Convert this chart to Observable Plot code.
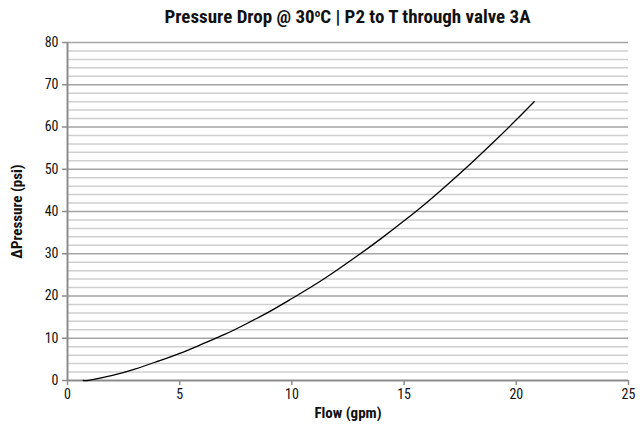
<!DOCTYPE html>
<html>
<head>
<meta charset="utf-8">
<script src="https://cdn.jsdelivr.net/npm/d3@7"></script>
<script src="https://cdn.jsdelivr.net/npm/@observablehq/plot@0.6"></script>
<style>
  body { margin: 0; background: #fff; }
  #wrap { width: 644px; height: 425px; position: relative; font-family: "Liberation Sans Narrow", "Roboto Condensed", "Arial Narrow", "Liberation Sans", sans-serif; }
  #title { position: absolute; left: 67px; width: 561px; top: 6px; text-align: center; font-weight: bold; font-size: 19px; line-height: 22px; color: #111; font-stretch: condensed; }
  #chart { position: absolute; top: 34px; left: 0; }
</style>
</head>
<body>
<div id="wrap">
  <div id="title">Pressure Drop @ 30<sup style="font-size:11px;vertical-align:6px;line-height:0;">o</sup>C | P2 to T through valve 3A</div>
  <div id="chart"></div>
</div>
<script>
const flow = [0.7, 1, 2, 3, 4, 5, 6, 7, 8, 9, 10, 11, 12, 13, 14, 15, 16, 17, 18, 19, 20, 20.8];
const pressure = [0, 0.1, 1.2, 2.7, 4.5, 6.4, 8.6, 10.9, 13.5, 16.3, 19.4, 22.6, 26.1, 29.8, 33.7, 37.8, 42.1, 46.7, 51.5, 56.5, 61.7, 66.0];
const xTicks = [0, 5, 10, 15, 20, 25];
const yTicks = [0, 10, 20, 30, 40, 50, 60, 70, 80];
const minorY = [2, 4, 6, 8, 12, 14, 16, 18, 22, 24, 26, 28, 32, 34, 36, 38, 42, 44, 46, 48, 52, 54, 56, 58, 62, 64, 66, 68, 72, 74, 76, 78];

const data = flow.map((f, i) => ({flow: f, dp: pressure[i]}));
const font = '"Liberation Sans Narrow", "Roboto Condensed", "Arial Narrow", "Liberation Sans", sans-serif';

const plot = Plot.plot({
  width: 644,
  height: 391,
  marginLeft: 67,
  marginRight: 16,
  marginTop: 8,
  marginBottom: 45,
  style: {fontFamily: font, fontSize: "14px", color: "#111", background: "#fff"},
  x: {domain: [0, 25]},
  y: {domain: [0, 80]},
  marks: [
    Plot.ruleY(minorY, {stroke: "#cfcfcf", strokeWidth: 1.5}),
    Plot.ruleY(yTicks.filter(d => d > 0), {stroke: "#a3a3a3", strokeWidth: 1.5}),
    Plot.ruleX([0], {stroke: "#8c8c8c", strokeWidth: 2}),
    Plot.ruleY([0], {stroke: "#8c8c8c", strokeWidth: 2}),
    Plot.axisY({ticks: yTicks, tickSize: 5, tickPadding: 4, stroke: "#8c8c8c", strokeWidth: 1.5, label: null, fontSize: 14, fill: "#111"}),
    Plot.axisX({ticks: xTicks, tickSize: 5, tickPadding: 4, stroke: "#8c8c8c", strokeWidth: 1.5, label: null, fontSize: 14, fill: "#111"}),
    Plot.text(["Flow (gpm)"], {frameAnchor: "bottom", dy: 37, fontWeight: "bold", fontSize: 15, fill: "#111"}),
    Plot.text(["ΔPressure (psi)"], {frameAnchor: "left", textAnchor: "middle", dx: -50, rotate: -90, fontWeight: "bold", fontSize: 15, fill: "#111"}),
    Plot.line(data, {x: "flow", y: "dp", curve: "natural", stroke: "#000", strokeWidth: 1.3})
  ]
});
document.getElementById("chart").appendChild(plot);
</script>
</body>
</html>
